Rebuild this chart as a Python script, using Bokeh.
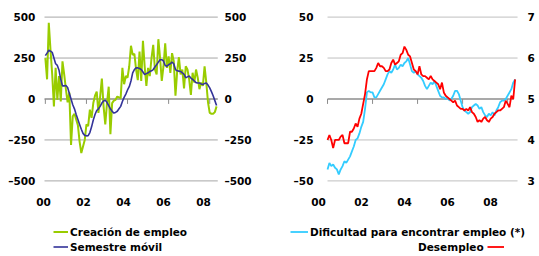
from bokeh.plotting import figure
from bokeh.layouts import row
from bokeh.models import Range1d, Legend, LegendItem
from bokeh.core.properties import value
from bokeh.embed import file_html
from bokeh.resources import INLINE

# ---------------- data ----------------
months = list(range(101))  # Jan 2000 .. May 2008

creacion = [250, 120, 465, 300, 150, -45, 190, -5, 140, -15,
            230, 150, 60, -20, 40, -280, -105, -90, -125, -160,
            -260, -330, -290, -250, -155, -165, -65, -115, -25, 20,
            45, -85, 15, 125, -45, -155, -25, 75, -215, -25,
            -10, -5, 15, 10, 5, 190, 90, 140, 130, 200,
            325, 270, 275, 180, 115, 290, 110, 355, 200, 80,
            190, 140, 250, 330, 180, 150, 365, 250, 110, 200,
            340, 190, 260, 160, 280, 230, 20, 170, 255, 150,
            180, 65, 200, 180, 120, 25, 160, 100, 180, 130,
            60, 100, 80, 200, 100, -20, -85, -90, -90, -80,
            -45]

semestre = [265, 280, 298, 292, 285, 250, 215, 205, 175, 120,
            80, 80, 82, 70, 35, 0, -35, -60, -95, -125,
            -155, -185, -210, -222, -225, -224, -205, -170, -128, -95,
            -70, -60, -45, -25, -12, -8, -20, -40, -60, -75,
            -86, -82, -75, -60, -45, -15, 10, 30, 55, 75,
            110, 160, 180, 190, 190, 186, 180, 165, 150, 155,
            160, 168, 172, 180, 195, 210, 225, 240, 240, 232,
            205, 200, 210, 215, 225, 215, 180, 172, 170, 168,
            160, 150, 130, 135, 140, 128, 120, 110, 100, 98,
            98, 92, 88, 95, 98, 85, 68, 45, 20, -10,
            -40]

dificultad = [-43, -39, -41, -40, -42, -43, -46, -43, -41, -38,
              -39, -37, -35, -32, -29, -25, -24, -21, -17, -14,
              -6, 4, 5, 4, 4, 1, 1, 3, 5, 7,
              9, 12, 15, 17, 16, 18, 21, 18, 19, 21,
              20, 22, 23, 25, 21, 17, 16, 17, 15, 14,
              13, 11, 8, 6, 8, 10, 9, 11, 8, 5,
              2, 1, 1, 0, 1, -1, 0, 2, 5, 5,
              3, -1, -5, -7, -8, -9, -8, -5, -4, -3,
              -4, -6, -5, -8, -10, -11, -9, -10, -8, -10,
              -7, -5, -2, -1, -1, 0, 2, 4, 6, 10,
              12]

desempleo = [4.00, 4.12, 4.00, 3.80, 4.00, 4.00, 4.00, 4.08, 4.12, 3.92,
             3.92, 3.92, 4.20, 4.20, 4.28, 4.40, 4.32, 4.52, 4.64, 4.88,
             5.12, 5.48, 5.68, 5.68, 5.68, 5.68, 5.76, 5.88, 5.80, 5.80,
             5.76, 5.68, 5.68, 5.72, 5.88, 5.96, 5.84, 5.88, 5.92, 6.08,
             6.12, 6.28, 6.20, 6.08, 6.04, 5.88, 5.72, 5.68, 5.60, 5.80,
             5.60, 5.56, 5.56, 5.52, 5.48, 5.56, 5.48, 5.44, 5.40, 5.36,
             5.24, 5.40, 5.16, 5.08, 5.04, 5.00, 4.96, 4.92, 4.96, 4.84,
             4.80, 4.76, 4.76, 4.72, 4.76, 4.72, 4.80, 4.68, 4.64, 4.56,
             4.44, 4.48, 4.44, 4.52, 4.56, 4.48, 4.44, 4.52, 4.56, 4.64,
             4.68, 4.72, 4.72, 4.76, 4.80, 4.96, 4.88, 4.80, 5.08, 5.00,
             5.48]

year_labels = ["00", "02", "04", "06", "08"]
year_pos = [0, 2, 4, 6, 8]
tick_months = [0, 24, 48, 72, 96]

left_ticks = [-500, -250, 0, 250, 500]
left_tick_text = ["–500", "–250", "0", "250", "500"]
dif_ticks = [-50, -25, 0, 25, 50]
dif_tick_text = ["–50", "–25", "0", "25", "50"]
des_ticks = [3, 4, 5, 6, 7]
des_tick_text = ["3", "4", "5", "6", "7"]

# ---------------- style ----------------
FONT = "DejaVu Sans"
FSIZE = "10.5px"
GREEN = "#99CC00"
NAVY = "#333399"
CYAN = "#33CCFF"
RED = "#FF0000"
GRID_L = "#A6A6A6"
GRID_R = "#BFBFBF"
AXIS = "#8C8C8C"
H = 256


def base_fig(width, xr, yr):
    p = figure(width=width, height=H, x_range=xr, y_range=yr,
               output_backend="svg", toolbar_location=None,
               x_axis_location=None, y_axis_location=None,
               min_border=0)
    p.outline_line_color = None
    p.grid.visible = False
    p.background_fill_color = "white"
    p.border_fill_color = "white"
    return p


def txt(p, x, y, t, align, **kw):
    p.text(x=x, y=y, text=t, text_align=align, text_baseline="middle",
           text_font=value(FONT), text_font_size=value(FSIZE),
           text_font_style="bold", text_color="#000000", **kw)


def legend(items, loc, gw):
    return Legend(items=items, location=loc, orientation="vertical",
                  glyph_width=gw, glyph_height=15, label_height=15,
                  label_standoff=2, spacing=0, padding=0, margin=0,
                  border_line_color=None, background_fill_alpha=0,
                  label_text_font=FONT, label_text_font_size=FSIZE,
                  label_text_font_style="bold", label_text_color="#000000")


# ---------------- left chart ----------------
# plot area: months -0.5 .. 100.7 ; values -500 .. 500
X0L, X1L = -0.5, 100.7
p1 = base_fig(270, Range1d(-26.2, 131.5), Range1d(-961.5, 601.3))
p1.extra_x_ranges = {"yr": Range1d(-2.15, 11.35)}

grid_l = [t for t in left_ticks if t != 0]
p1.segment(x0=[X0L] * 4, y0=grid_l, x1=[X1L] * 4, y1=grid_l,
           line_color=GRID_L, line_width=1)
p1.segment(x0=[X0L], y0=[0], x1=[X1L], y1=[0], line_color=AXIS, line_width=1.3)
p1.segment(x0=tick_months, y0=[0] * 5, x1=tick_months, y1=[-30] * 5,
           line_color=AXIS, line_width=1)

txt(p1, [-5.8] * 5, left_ticks, left_tick_text, "right")
txt(p1, [104.6] * 5, left_ticks, left_tick_text, "left")
txt(p1, year_pos, [-628.8] * 5, year_labels, "center", x_range_name="yr")

g = p1.line(months, creacion, line_color=GREEN, line_width=2)
b = p1.line(months, semestre, line_color=NAVY, line_width=1.6)

p1.add_layout(legend([LegendItem(label="Creación de empleo", renderers=[g]),
                      LegendItem(label="Semestre móvil", renderers=[b])],
                     (53, 2), 15))

# ---------------- right chart ----------------
# plot area: months 0 .. 101.3 ; values -50 .. 50 (unemployment 3 .. 7)
X0R, X1R = 0, 101.3
p2 = base_fig(269, Range1d(-30.4, 113.0), Range1d(-96.15, 60.13))
p2.extra_y_ranges = {"des": Range1d(5 - 96.15 / 25, 5 + 60.13 / 25)}
p2.extra_x_ranges = {"yr": Range1d(-2.233, 10.28)}

grid_r = [t for t in dif_ticks if t != 0]
p2.segment(x0=[X0R] * 4, y0=grid_r, x1=[X1R] * 4, y1=grid_r,
           line_color=GRID_R, line_width=1)
p2.segment(x0=[X0R], y0=[0], x1=[99.4], y1=[0], line_color=AXIS, line_width=1.3)
p2.segment(x0=tick_months, y0=[0] * 5, x1=tick_months, y1=[-3] * 5,
           line_color=AXIS, line_width=1)

txt(p2, [-7.5] * 5, dif_ticks, dif_tick_text, "right")
txt(p2, [106.6] * 5, des_ticks, des_tick_text, "left", y_range_name="des")
txt(p2, year_pos, [-62.9] * 5, year_labels, "center", x_range_name="yr")

c = p2.line(months, dificultad, line_color=CYAN, line_width=1.8)
r = p2.line(months, desempleo, line_color=RED, line_width=1.8, y_range_name="des")

p2.add_layout(legend([LegendItem(label="Dificultad para encontrar empleo (*)", renderers=[c])],
                     (20, 17), 18))
p2.add_layout(legend([LegendItem(label=" ", renderers=[r])], (217, 2), 17))
txt(p2, [83.2], [-90.05], ["Desempleo"], "right")

layout = row(p1, p2, spacing=0)
open("out.html", "w").write(file_html(layout, INLINE))
